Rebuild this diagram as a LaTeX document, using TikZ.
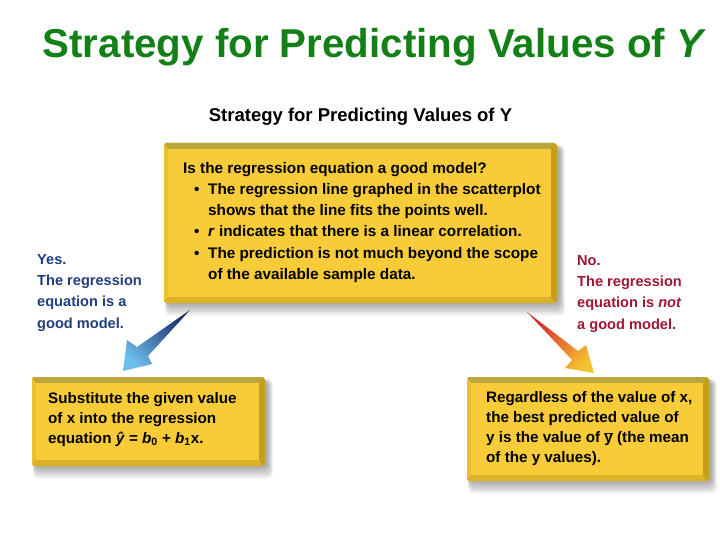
\documentclass[tikz,border=0pt]{standalone}
\usepackage{fontspec}
\setmainfont{Liberation Sans}
\definecolor{titlegreen}{RGB}{18,128,22}
\definecolor{boxface}{RGB}{248,204,56}
\definecolor{boxtop}{RGB}{190,166,62}
\definecolor{boxleft}{RGB}{236,192,44}
\definecolor{boxright}{RGB}{198,158,28}
\definecolor{boxbottom}{RGB}{220,178,40}
\definecolor{yesblue}{RGB}{32,62,128}
\definecolor{nored}{RGB}{160,22,52}
\definecolor{arrdark}{RGB}{28,48,110}
\definecolor{arrlight}{RGB}{110,190,235}
\definecolor{arrred}{RGB}{215,35,45}
\definecolor{arryellow}{RGB}{245,195,50}
\newcommand\yellowbox[4]{%
  \foreach \s in {1,...,10}{%
    \fill[black, opacity=0.035, rounded corners=6pt]
      (#1+3-\s*0.2,#2+4-\s*0.2) rectangle (#3+2+\s*0.6,#4+\s*1.3);
  }
  \fill[boxright, rounded corners=3pt] (#1,#2) rectangle (#3,#4);
  \fill[boxtop] (#1+1,#2) -- (#3-3,#2) -- (#3-6,#2+6) -- (#1+4,#2+6) -- cycle;
  \fill[boxleft] (#1,#2+1) -- (#1+4,#2+6) -- (#1+4,#4-6) -- (#1,#4-1) -- cycle;
  \fill[boxbottom] (#1+1,#4) -- (#1+4,#4-6) -- (#3-6,#4-6) -- (#3-2,#4) -- cycle;
  \fill[boxface] (#1+4,#2+6) rectangle (#3-6,#4-6);
}
\tikzset{
  boxtxt/.style={inner sep=0pt, align=left, anchor=north west,
    font=\fontsize{15.3}{21.2}\selectfont\bfseries},
  btxt/.style={inner sep=0pt, align=left, anchor=north west,
    font=\fontsize{15.2}{20}\selectfont\bfseries},
  lbl/.style={inner sep=0pt, align=left, anchor=north west,
    font=\fontsize{14.6}{21.3}\selectfont\bfseries},
}
\begin{document}
\begin{tikzpicture}[x=1pt,y=-1pt]
\useasboundingbox (0,0) rectangle (720,540);
\fill[white] (0,0) rectangle (720,540);

% title
\node[inner sep=0pt, anchor=base, text=titlegreen,
  font=\fontsize{40.3}{42}\selectfont\bfseries] (title) at (374.5,58)
  {Strategy for Predicting Values of \textit{Y}};

% subtitle
\node[inner sep=0pt, font=\fontsize{18.5}{20}\selectfont\bfseries] (sub) at (360.5,117)
  {Strategy for Predicting Values of Y};

% boxes
\yellowbox{164}{143}{557}{303}
\yellowbox{32}{377}{265}{466}
\yellowbox{467}{377}{709}{481}

% top box text
\node[boxtxt] (q) at (183,162) {Is the regression equation a good model?\\
\hspace*{11pt}\makebox[14pt][l]{\textbullet}The regression line graphed in the scatterplot\\
\hspace*{25pt}shows that the line fits the points well.\\
\hspace*{11pt}\makebox[14pt][l]{\textbullet}\textit{r} indicates that there is a linear correlation.\\
\hspace*{11pt}\makebox[14pt][l]{\textbullet}The prediction is not much beyond the scope\\
\hspace*{25pt}of the available sample data.};

% labels
\node[lbl, text=yesblue] (yes) at (37,254) {Yes.\\The regression\\equation is a\\good model.};
\node[lbl, text=nored] (no) at (577,255) {No.\\The regression\\equation is \textit{not}\\a good model.};

% bottom boxes text
\node[btxt] (sub1) at (48,392) {Substitute the given value\\
of x into the regression\\
equation \textit{ŷ} = \textit{b}\textsubscript{0} + \textit{b}\textsubscript{1}x.};
\node[btxt] (mean) at (486,391) {Regardless of the value of x,\\
the best predicted value of\\
y is the value of $\overline{\hbox{\bfseries y}}$ (the mean\\
of the y values).};

% arrows
\shade[top color=arrdark, bottom color=arrlight, shading angle=-45]
  (190,310) -- (148,356) -- (152,364) -- (123,371) -- (127,340) -- (137,347) -- cycle;
\shade[top color=arrred, bottom color=arryellow, shading angle=45]
  (527,312) -- (578,351) -- (586,345) -- (594,373) -- (565,368) -- (572,360) -- cycle;
\end{tikzpicture}
\end{document}
